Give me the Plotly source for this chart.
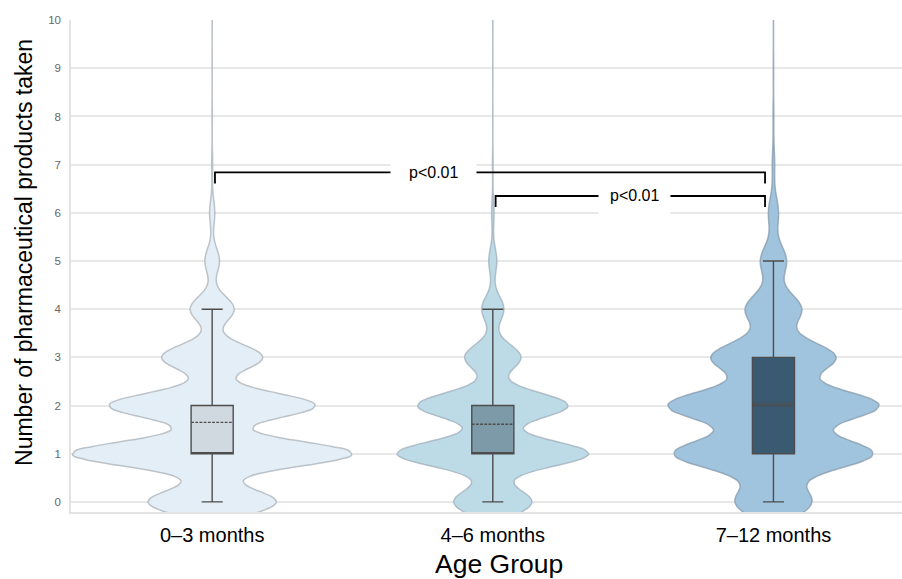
import numpy as np
import plotly.graph_objects as go

# ---------------- data ----------------
categories = ["0–3 months", "4–6 months", "7–12 months"]
n_products = list(range(16))  # number of pharmaceutical products taken
counts_0_3 = [640, 1400, 1030, 505, 220, 73, 26, 5, 2, 1, 1, 1, 0, 1, 0, 1]
counts_4_6 = [390, 955, 750, 280, 110, 40, 12, 3, 1, 1, 1, 0, 1, 0, 0, 1]
counts_7_12 = [380, 990, 1050, 620, 280, 130, 50, 12, 4, 2, 1, 1, 1, 0, 0, 1]

box_q1 = [1, 1, 1]
box_median = [1, 1, 2]
box_q3 = [2, 2, 3]
box_lower = [0, 0, 0]
box_upper = [4, 4, 5]
box_mean = [1.65, 1.61, 2.05]

comparisons = [(0, 2), (1, 2)]
comparison_y = [6.84, 6.35]
comparison_labels = ["p<0.01", "p<0.01"]
comparison_label_x = [0.79, 1.505]

y_ticks = list(range(11))

# ---------------- styles ----------------
violin_fill = ["#e3eef6", "#bddbe7", "#a0c4de"]
violin_line = ["rgba(165,172,180,0.7)", "rgba(155,170,182,0.7)", "rgba(130,150,168,0.7)"]
violin_bw = [0.265, 0.27, 0.32]
violin_width = [0.993, 0.682, 0.752]
box_fill = ["#d0d8e0", "#7d9aa8", "#3a5a71"]
label_pad = [18, 11]
FONT = "Liberation Sans, Arial, sans-serif"

all_counts = [counts_0_3, counts_4_6, counts_7_12]

fig = go.Figure()
for i, cat in enumerate(categories):
    samples = np.repeat(n_products, all_counts[i])
    fig.add_trace(go.Violin(
        x=[cat] * len(samples), y=samples,
        name=cat, fillcolor=violin_fill[i], opacity=1,
        line=dict(color=violin_line[i], width=1.5),
        bandwidth=violin_bw[i], width=violin_width[i],
        spanmode="soft", points=False,
        box_visible=False, meanline_visible=False,
        showlegend=False, hoverinfo="skip",
    ))

for i, cat in enumerate(categories):
    fig.add_trace(go.Box(
        x=[cat], q1=[box_q1[i]], median=[box_median[i]], q3=[box_q3[i]],
        lowerfence=[box_lower[i]], upperfence=[box_upper[i]], mean=[box_mean[i]],
        boxmean=True, boxpoints=False, width=0.15, whiskerwidth=0.5,
        fillcolor=box_fill[i], line=dict(color="#4d4d4d", width=1.4),
        showlegend=False, hoverinfo="skip",
    ))

# significance brackets
for (a, b), yv, lab, lx, pad in zip(comparisons, comparison_y, comparison_labels,
                                     comparison_label_x, label_pad):
    x0, x1 = a + 0.01, b - 0.03
    drop = 0.23
    fig.add_shape(type="path",
                  path=f"M {x0},{yv - drop} L {x0},{yv} L {x1},{yv} L {x1},{yv - drop}",
                  xref="x", yref="y", line=dict(color="black", width=1.8), layer="above")
    fig.add_annotation(x=lx, y=yv, xref="x", yref="y", text=lab, showarrow=False,
                       font=dict(family=FONT, size=16, color="black"),
                       bgcolor="white", borderpad=pad, xanchor="center", yanchor="middle")

fig.add_annotation(x=-0.0566, y=0.5285, xref="paper", yref="paper",
                   text="Number of pharmaceutical products taken", textangle=-90,
                   showarrow=False, font=dict(family=FONT, size=23, color="black"),
                   xanchor="center", yanchor="middle")
fig.add_annotation(x=0.5148, y=-0.1057, xref="paper", yref="paper",
                   text="Age Group", showarrow=False,
                   font=dict(family=FONT, size=26.5, color="black"),
                   xanchor="center", yanchor="middle")

fig.update_layout(
    width=902, height=579,
    margin=dict(l=71, r=0, t=20, b=67),
    paper_bgcolor="white", plot_bgcolor="white",
    violinmode="overlay", boxmode="overlay",
    font=dict(family=FONT),
    xaxis=dict(type="category", categoryorder="array", categoryarray=categories,
               range=[-0.503, 2.458], showgrid=False, zeroline=False,
               showline=True, linecolor="#e3e3e3", linewidth=1.5,
               tickfont=dict(family=FONT, size=20, color="black"), ticks="",
               ticklabelstandoff=4),
    yaxis=dict(range=[-0.21, 10.003], tickvals=y_ticks, showgrid=True,
               gridcolor="#e8e8e8", gridwidth=1.5, zeroline=False,
               showline=True, linecolor="#e3e3e3", linewidth=1.5,
               tickfont=dict(family=FONT, size=11.5, color="#666666"), ticks="",
               ticklabelstandoff=6),
)

fig.write_html("out.html", config={"displayModeBar": False},
               post_script="document.body.style.margin='0';document.body.style.padding='0';")
